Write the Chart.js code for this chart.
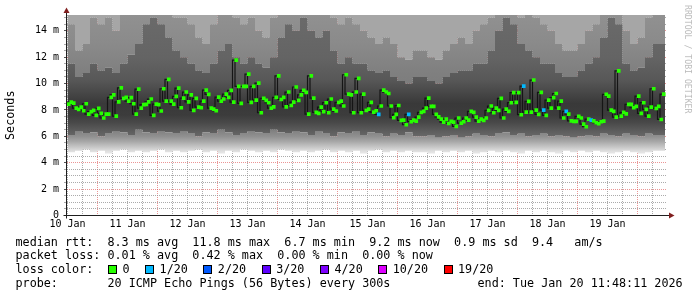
<!DOCTYPE html>
<html>
<head>
<meta charset="utf-8">
<script src="https://cdn.jsdelivr.net/npm/chart.js@4.4.1/dist/chart.umd.min.js"></script>
<style>
  body { margin: 0; background: #fff; }
  #wrap { position: relative; width: 697px; height: 297px; }
  .txt { position: absolute; font-family: "DejaVu Sans Mono", monospace; font-size: 11.75px; line-height: 14px; white-space: pre; color: #000; }
  .box { position: absolute; top: 265px; width: 7px; height: 7px; border: 1px solid #000; }
  #wm { position: absolute; left: 693px; top: 5px; transform-origin: 0 0; transform: rotate(90deg);
        font-family: "DejaVu Sans Mono", monospace; font-size: 8.2px; line-height: 10px; color: #bbb; white-space: pre; }
</style>
</head>
<body>
<div id="wrap">
  <canvas id="chart" width="697" height="297"></canvas>
  <div id="wm">RRDTOOL / TOBI OETIKER</div>
  <div class="txt" style="left:15.5px;top:234.7px">median rtt:  8.3 ms avg  11.8 ms max  6.7 ms min  9.2 ms now  0.9 ms sd  9.4   am/s</div>
  <div class="txt" style="left:15.5px;top:248px">packet loss: 0.01 % avg  0.42 % max  0.00 % min  0.00 % now</div>
  <div class="txt" style="left:15.5px;top:262.3px">loss color:</div>
  <div class="txt" style="left:15.5px;top:275.7px">probe:       20 ICMP Echo Pings (56 Bytes) every 300s</div>
  <div class="txt" style="left:477.5px;top:275.7px">end: Tue Jan 20 11:48:11 2026</div>
</div>
<script>
// median rtt in ms, one value per hour starting Jan 10 12:00
var median = [
  8.45, 8.60, 8.52, 8.14, 8.04, 8.22, 7.94, 8.47, 7.69, 7.87,
  7.97, 7.59, 8.12, 7.74, 7.39, 7.69, 7.69, 8.95, 9.15, 7.54,
  8.62, 9.68, 8.88, 8.95, 8.67, 8.93, 8.47, 7.69, 9.58, 8.14,
  8.40, 8.42, 8.62, 8.83, 7.59, 8.45, 8.40, 7.92, 9.61, 8.67,
  10.32, 8.67, 8.45, 9.03, 9.66, 8.17, 8.90, 9.36,
  8.62, 9.15, 7.97, 8.88, 8.22, 8.17, 8.67, 9.51, 9.18, 8.14,
  8.07, 7.94, 8.98, 8.67, 8.83, 9.20, 8.95, 9.48, 8.60, 11.78,
  9.79, 8.50, 9.79, 9.79, 10.72, 8.57, 9.79, 8.75, 10.04, 7.79,
  8.88, 8.73, 8.55, 8.14, 8.24, 8.95, 10.59, 8.80, 8.95, 8.24,
  9.36, 8.34, 8.60, 9.74, 8.73, 9.15, 9.48, 9.33,
  7.69, 10.59, 8.90, 7.82, 7.74, 8.22, 7.87, 8.55, 7.79, 8.83,
  8.07, 7.92, 8.57, 8.67, 8.30, 10.67, 9.20, 9.15, 7.79, 9.36,
  10.39, 7.79, 9.20, 7.97, 8.07, 8.57, 7.84, 7.94, 7.67, 8.30,
  9.51, 9.36, 9.25, 8.30, 7.41, 7.67, 8.34, 7.21, 7.23, 6.88,
  7.66, 7.11, 7.23, 7.16, 7.46, 7.82, 7.89, 8.14,
  8.90, 8.27, 8.27, 7.66, 7.48, 7.31, 7.08, 7.31, 6.98, 7.13,
  7.08, 6.75, 7.39, 7.00, 7.11, 7.39, 7.23, 7.89, 7.82, 7.46,
  7.16, 7.31, 7.21, 7.39, 7.97, 8.30, 7.79, 8.14, 7.97, 8.88,
  7.39, 8.07, 7.89, 8.55, 9.31, 8.57, 9.31, 7.64, 9.81, 7.84,
  8.65, 7.84, 10.27, 7.99, 7.66, 9.33, 7.99, 7.59,
  8.75, 8.14, 8.93, 9.25, 8.14, 8.67, 7.39, 7.89, 7.69, 7.18,
  7.13, 7.13, 7.51, 7.39, 6.93, 6.73, 7.31, 7.23, 7.18, 7.03,
  6.96, 7.11, 7.16, 9.18, 9.05, 7.99, 7.89, 7.46, 10.97, 7.54,
  7.82, 7.71, 8.42, 8.42, 8.17, 8.27, 9.05, 7.74, 8.55, 8.04,
  7.54, 8.22, 9.61, 8.12, 8.27, 7.28, 9.20
]
// hours where 1 of 20 pings was lost
var lossHours = [124, 136, 182, 190, 199, 209]

// smoke outline, one value per 3 hours (ms)
var smokeMin = [
  4.9, 4.8, 4.9, 5.0, 4.8, 4.9, 4.7, 4.9, 5.0, 4.8, 4.9, 4.8, 4.9, 5.0, 4.8, 4.9,
  4.8, 4.9, 5.0, 4.8, 4.9, 4.7, 4.9, 4.8, 5.0, 4.9, 4.8, 4.9, 4.8, 5.0, 4.9, 4.8,
  4.9, 4.8, 4.9, 5.0, 4.8, 4.9, 4.8, 4.9, 4.7, 4.9, 5.0, 4.8, 4.9, 4.8, 4.9, 4.8,
  4.8, 4.7, 4.9, 4.8, 4.9, 4.8, 4.9, 4.7, 4.8, 4.9, 4.8, 4.9, 4.8, 4.7, 4.9, 4.8,
  4.9, 4.8, 4.7, 4.9, 4.8, 4.9, 4.8, 4.9, 4.8, 4.7, 4.8, 4.9, 4.8, 4.7, 4.8, 4.9
]
var smokeLow = [
  6.3, 6.1, 6.4, 6.2, 6.3, 6.0, 6.2, 6.4, 6.3, 6.1, 6.5, 6.3, 6.2, 6.4, 6.3, 6.2,
  6.4, 6.2, 6.0, 6.3, 6.2, 6.5, 6.3, 6.1, 6.2, 6.4, 6.3, 6.2, 6.5, 6.3, 6.2, 6.4,
  6.3, 6.1, 6.4, 6.2, 6.0, 6.3, 6.2, 6.4, 6.1, 6.3, 6.2, 6.0, 6.2, 6.1, 6.3, 6.0,
  6.0, 6.1, 5.9, 6.0, 6.1, 5.9, 6.0, 6.2, 6.1, 6.0, 6.2, 6.3, 6.1, 6.2, 6.0, 6.1,
  6.2, 6.0, 6.1, 6.0, 5.9, 6.0, 6.1, 6.0, 6.2, 6.1, 6.0, 6.2, 6.1, 6.0, 6.2, 6.1
]
var smokeHigh = [
  11, 11.5, 10.5, 10.8, 11.5, 11, 11.2, 10.8, 11.5, 12.2, 13, 14.5, 15, 14.5, 13.5, 12.5,
  12, 11.5, 11, 10.8, 11.5, 12.5, 13, 12, 11.5, 12, 11.5, 11.2, 12, 13.5, 14.5, 14,
  15, 14, 13.5, 14, 12.5, 11.5, 12, 11.5, 11.5, 11, 10.8, 11, 10.5, 10.2, 10, 10.5,
  10.5, 10.2, 10, 10.5, 10.8, 11, 11, 11.5, 11.5, 12.5, 14, 15, 14.5, 13, 12.5, 12,
  11.5, 11.5, 10.8, 10.5, 10.5, 11, 11.5, 12, 13.5, 15, 14.5, 11.5, 11, 11.2, 12, 13
]
var smokeTop = [
  15.5, 14.5, 12.5, 13, 15, 14.5, 15, 14, 15.5, 16, 16, 16, 16, 16, 15.5, 15,
  15, 14.5, 13.5, 13, 14.5, 16, 16, 15, 14.5, 15, 14, 13.5, 15, 16, 16, 16,
  16, 16, 15.5, 16, 15, 14.5, 15, 14.5, 14, 13.5, 13, 13.5, 13, 12, 11.8, 12.5,
  12.5, 12, 11.8, 12.5, 13, 13.5, 13, 14, 14.5, 15, 16, 16, 16, 15, 15.5, 15,
  14.5, 14, 13, 12.5, 12.5, 13, 14, 14.5, 15.5, 16, 16, 14, 13, 13.5, 15, 16
]

var dayLabels = ['10 Jan', '11 Jan', '12 Jan', '13 Jan', '14 Jan', '15 Jan', '16 Jan', '17 Jan', '18 Jan', '19 Jan']
var yTickLabels = ['0', '2 m', '4 m', '6 m', '8 m', '10 m', '12 m', '14 m']
var lossLabels = ['0', '1/20', '2/20', '3/20', '4/20', '10/20', '19/20']
var lossColors = ['#26ff00', '#00b8ff', '#0059ff', '#5e00ff', '#7e00ff', '#dd00ff', '#ff0000']

var GRID = 'rgba(143,143,143,0.75)'
var MGRID = 'rgba(222,79,79,0.6)'
var MONO = 'DejaVu Sans Mono'

// legend row with the loss colours
var wrap = document.getElementById('wrap')
var lx = 108
lossLabels.forEach(function (lab, i) {
    var b = document.createElement('div')
    b.className = 'box'
    b.style.left = lx + 'px'
    b.style.background = lossColors[i]
    wrap.appendChild(b)
    var t = document.createElement('div')
    t.className = 'txt'
    t.style.left = (lx + 14.5) + 'px'
    t.style.top = '262.3px'
    t.textContent = lab
    wrap.appendChild(t)
    lx = lx + 15 + lab.length * 7.07 + 15
})

// points for a stepped line, each value held for `width` hours
function stepPoints(vals, width) {
    var pts = vals.map(function (v, i) { return { x: i * width, y: v } })
    pts.push({ x: Math.min(vals.length * width, 239), y: vals[vals.length - 1] })
    return pts
}

function vGrad(chart, stops) {
    var a = chart.chartArea
    if (!a) return '#888'
    var y = chart.scales.y
    var y0 = y.getPixelForValue(0), y1 = y.getPixelForValue(16)
    var g = chart.ctx.createLinearGradient(0, y0, 0, y1)
    stops.forEach(function (s) { g.addColorStop(s[0] / 16, s[1]) })
    return g
}

var lowStops = [[0, '#eeeeee'], [4.8, '#e4e4e4'], [5.2, '#c6c6c6'], [5.6, '#a8a8a8'], [6.0, '#909090'], [6.6, '#7a7a7a'], [16, '#7a7a7a']]
var midStops = [[0, '#686868'], [6.0, '#686868'], [6.5, '#5a5a5a'], [7.0, '#4a4a4a'], [7.6, '#3c3c3c'], [8.5, '#393939'], [9.3, '#474747'], [10.3, '#585858'], [12, '#646464'], [16, '#6c6c6c']]
var highStops = [[0, '#7a7a7a'], [9, '#7a7a7a'], [11, '#808080'], [13, '#8a8a8a'], [16, '#939393']]

var xTickHours = []
dayLabels.forEach(function (d, i) {
    for (var k = 0; k < 24; k += 6) xTickHours.push(i * 24 + k)
})
var yTickVals = []
for (var v = 0; v <= 15; v += 0.5) yTickVals.push(v)

var pointColors = median.map(function (m, i) {
    return lossHours.indexOf(i) >= 0 ? lossColors[1] : lossColors[0]
})

// smoke is drawn below the median (higher order = drawn earlier)
var smokeBase = { stepped: 'after', pointRadius: 0, borderWidth: 0, borderColor: 'transparent', order: 10 }

var axisArrows = {
    id: 'axisArrows',
    afterDraw: function (chart) {
        var c = chart.ctx, a = chart.chartArea
        var ax = a.left - 0.5, ay = Math.floor(a.bottom) + 0.5
        c.save()
        c.strokeStyle = '#1f1f1f'
        c.lineWidth = 1
        c.beginPath()
        c.moveTo(ax, ay + 3)
        c.lineTo(ax, 12)
        c.moveTo(ax - 3, ay)
        c.lineTo(a.right + 2, ay)
        c.stroke()
        c.fillStyle = '#801f1f'
        c.beginPath()
        c.moveTo(ax, 7.5)
        c.lineTo(ax - 3, 13)
        c.lineTo(ax + 3, 13)
        c.closePath()
        c.fill()
        c.beginPath()
        c.moveTo(a.right + 7.5, ay)
        c.lineTo(a.right + 2, ay - 3)
        c.lineTo(a.right + 2, ay + 3)
        c.closePath()
        c.fill()
        c.restore()
    }
}

new Chart(document.getElementById('chart'), {
    type: 'line',
    data: {
        datasets: [
            Object.assign({ data: stepPoints(smokeMin, 3), fill: false }, smokeBase),
            Object.assign({ data: stepPoints(smokeLow, 3), fill: '-1', backgroundColor: function (c) { return vGrad(c.chart, lowStops) } }, smokeBase),
            Object.assign({ data: stepPoints(smokeHigh, 3), fill: '-1', backgroundColor: function (c) { return vGrad(c.chart, midStops) } }, smokeBase),
            Object.assign({ data: stepPoints(smokeTop, 3), fill: '-1', backgroundColor: function (c) { return vGrad(c.chart, highStops) } }, smokeBase),
            Object.assign({ data: stepPoints(smokeTop, 3), fill: 'end', backgroundColor: '#a6a6a6' }, smokeBase),
            {
                data: stepPoints(median, 1), stepped: 'after', pointRadius: 0, order: 1,
                borderColor: '#151515', borderWidth: 1.2, fill: false
            },
            {
                data: median.map(function (m, i) { return { x: i + 0.5, y: m } }), order: 0,
                showLine: false, pointStyle: 'rect', pointRadius: 2.6, pointBorderWidth: 0,
                pointBackgroundColor: pointColors, pointBorderColor: pointColors
            }
        ]
    },
    options: {
        responsive: false,
        animation: false,
        devicePixelRatio: 1,
        layout: { padding: { top: 15, right: 30, bottom: 0, left: 0 } },
        plugins: { legend: { display: false }, tooltip: { enabled: false } },
        scales: {
            x: {
                type: 'linear', min: -0.2, max: 239.8, z: 1,
                afterFit: function (s) { s.height = 81.5 },
                afterBuildTicks: function (s) { s.ticks = xTickHours.map(function (h) { return { value: h } }) },
                grid: {
                    drawTicks: false, lineWidth: 1,
                    color: function (c) { return c.tick && c.tick.value % 24 === 12 ? MGRID : GRID }
                },
                border: { display: false, dash: [1, 1] },
                ticks: {
                    autoSkip: false, maxRotation: 0, padding: 3, color: '#000',
                    font: { family: MONO, size: 10 },
                    callback: function (v) { return v % 24 === 0 ? dayLabels[v / 24] : '' }
                }
            },
            y: {
                min: 0, max: 15.2, z: 1,
                afterFit: function (s) { s.width = 67 },
                afterBuildTicks: function (s) { s.ticks = yTickVals.map(function (t) { return { value: t } }) },
                grid: {
                    lineWidth: 1, tickLength: 3, tickBorderDash: [],
                    color: function (c) { return c.tick && c.tick.value % 2 === 0 ? MGRID : GRID },
                    tickColor: function (c) { return c.tick && c.tick.value % 2 === 0 ? '#555' : '#aaa' }
                },
                border: { display: false, dash: [1, 1] },
                ticks: {
                    autoSkip: false, padding: 5, color: '#000',
                    font: { family: MONO, size: 10 },
                    callback: function (v) { return v % 2 === 0 ? yTickLabels[v / 2] : '' }
                },
                title: {
                    display: true, text: 'Seconds', color: '#000',
                    font: { family: MONO, size: 11.75 },
                    padding: { top: 3.75, bottom: 0 }
                }
            }
        }
    },
    plugins: [axisArrows]
})
</script>
</body>
</html>
